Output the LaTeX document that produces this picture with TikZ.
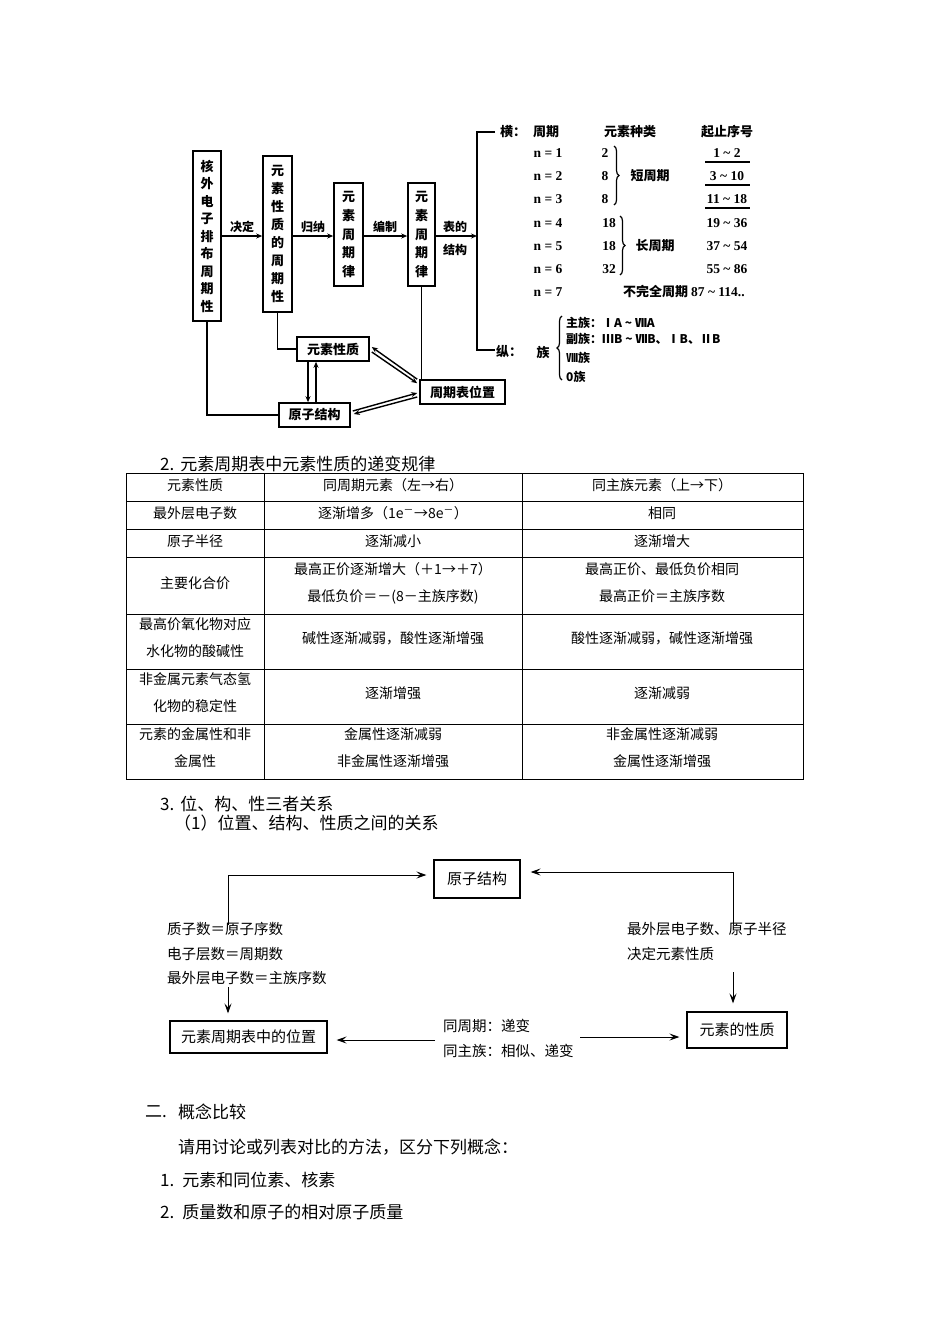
\documentclass[tikz,border=0pt]{standalone}
\usepackage{fontspec}
\setmainfont{Liberation Serif}
\newfontfamily\cjk{Noto Sans CJK SC}
\usetikzlibrary{arrows.meta,calc,decorations.pathreplacing}
\begin{document}
\begin{tikzpicture}[x=1pt,y=-1pt,
  tl/.style={line width=1.6pt},
  tarr/.style={line width=1.4pt, -{Stealth[length=6pt,width=5pt]}},
  vbox/.style={draw, line width=1.6pt, inner sep=0pt, align=center},
  hbox/.style={draw, line width=1.6pt, inner sep=0pt, minimum height=24pt, font=\cjk\bfseries\fontsize{13}{13}\selectfont},
  lbl/.style={font=\cjk\bfseries\fontsize{12}{23}\selectfont, inner sep=0pt, align=center},
  sr/.style={font=\bfseries\fontsize{13.5}{13.5}\selectfont, inner sep=0pt},
  ck/.style={font=\cjk\bfseries\fontsize{13}{13}\selectfont, inner sep=0pt},
  brc/.style={line width=1.2pt, decorate, decoration={brace, amplitude=5pt}},
  tbl/.style={line width=0.8pt},
  tt/.style={font=\cjk\fontsize{14}{27}\selectfont, inner sep=0pt, align=center},
  body/.style={font=\cjk\fontsize{17}{17}\selectfont, inner sep=0pt, anchor=west},
  bbox/.style={draw, line width=1.2pt, inner sep=0pt, font=\cjk\fontsize{15}{15}\selectfont},
  btxt/.style={font=\cjk\fontsize{14.5}{14.5}\selectfont, inner sep=0pt, anchor=west},
  barr/.style={line width=0.9pt, -{Stealth[length=10pt,width=7pt,inset=4pt]}}
]
\fill[white] (0,0) rectangle (950,1344);
\useasboundingbox (0,0) rectangle (950,1344);

% ---------- top diagram ----------
\node[vbox, minimum width=28pt, minimum height=170pt, font=\cjk\bfseries\fontsize{13}{17.5}\selectfont] (b1) at (207,236) {核\\外\\电\\子\\排\\布\\周\\期\\性};
\node[vbox, minimum width=29pt, minimum height=156pt, font=\cjk\bfseries\fontsize{13}{18}\selectfont] (b2) at (277.5,234) {元\\素\\性\\质\\的\\周\\期\\性};
\node[vbox, minimum width=29pt, minimum height=103pt, font=\cjk\bfseries\fontsize{13}{18.7}\selectfont] (b3) at (348.5,234.5) {元\\素\\周\\期\\律};
\node[vbox, minimum width=27pt, minimum height=103pt, font=\cjk\bfseries\fontsize{13}{18.7}\selectfont] (b4) at (421.5,234.5) {元\\素\\周\\期\\律};

\node[lbl] (l1) at (242,227) {决定};
\node[lbl] (l2) at (313,227) {归纳};
\node[lbl] (l3) at (385,227) {编制};
\node[lbl] (l4) at (455,238) {表的\\结构};

\coordinate (brT) at (477,132);
\coordinate (brB) at (477,350);
\coordinate (brT2) at (495,132);
\coordinate (brB2) at (495,350);
\draw[tl] (brT2) -- (brT) -- (brB) -- (brB2);

\draw[tarr] (b1.east) -- (b1.east -| b2.west);
\draw[tarr] (b1.east -| b2.east) -- (b1.east -| b3.west);
\draw[tarr] (b1.east -| b3.east) -- (b1.east -| b4.west);
\draw[tarr] (b1.east -| b4.east) -- (b1.east -| brT);

\node[hbox, minimum width=72pt] (ysxz) at (333,349) {元素性质};
\node[hbox, minimum width=71pt] (yzjg) at (314.5,415) {原子结构};
\node[hbox, minimum width=85pt] (zqb) at (462.5,392) {周期表位置};

\draw[tl] (b2.south) |- (ysxz.west);
\draw[tl] (b1.south) |- (yzjg.west);
\draw[tl] (b4.south) -- (b4.south |- zqb.north);

\draw[tarr] ($(ysxz.south)+(-25,0)$) -- ($(yzjg.north)+(-6.5,0)$);
\draw[tarr] ($(yzjg.north)+(1.5,0)$) -- ($(ysxz.south)+(-17,0)$);
\draw[tarr] ($(zqb.north west)+(-2,0)$) -- ($(ysxz.east)+(2,-2)$);
\draw[tarr] ($(ysxz.east)+(2,3)$) -- ($(zqb.north west)+(-2,4)$);
\draw[tarr] ($(yzjg.east)+(2,-4)$) -- ($(zqb.west)+(-2,1)$);
\draw[tarr] ($(zqb.west)+(-2,5)$) -- ($(yzjg.east)+(3,-1)$);

% right part
\node[ck] (heng) at (513,132) {横：};
\node[ck] (hzq) at (546,132) {周期};
\node[ck] (hzl) at (630,132) {元素种类};
\node[ck] (hxh) at (727,132) {起止序号};
\foreach \i/\y in {1/153,2/176,3/199,4/223,5/246,6/269,7/292}
  \node[sr] (n\i) at (548,\y) {n = \i};
\foreach \i/\y/\v in {1/153/2,2/176/8,3/199/8}
  \node[sr] (k\i) at (605,\y) {\v};
\foreach \i/\y/\v in {4/223/18,5/246/18,6/269/32}
  \node[sr] (k\i) at (609,\y) {\v};
\draw[brc] (614,146) -- (614,205);
\node[ck] (dzq) at (650,176) {短周期};
\draw[brc] (620,216) -- (620,275);
\node[ck] (czq) at (655,246) {长周期};
\foreach \i/\y/\v in {1/153/{1 \textasciitilde\ 2},2/176/{3 \textasciitilde\ 10},3/199/{11 \textasciitilde\ 18},4/223/{19 \textasciitilde\ 36},5/246/{37 \textasciitilde\ 54},6/269/{55 \textasciitilde\ 86}}
  \node[sr] (g\i) at (727,\y) {\v};
\draw[line width=1.2pt] (705,162) -- (750,162);
\draw[line width=1.2pt] (705,185) -- (750,185);
\draw[line width=1.8pt] (705,208) -- (750,208);
\node[ck, anchor=west] (bwq) at (623,292) {不完全周期 {\rmfamily\fontsize{13.5}{13.5}\selectfont 87 \textasciitilde\ 114..}};

\node[ck] (zong) at (509,352) {纵：};
\node[ck] (zu) at (543,352) {族};
\draw[brc] (562,380) -- (562,316);
\node[ck, anchor=west, font=\cjk\bfseries\fontsize{12}{12}\selectfont] (zz1) at (566,323) {主族：ⅠA \textasciitilde\ ⅦA};
\node[ck, anchor=west, font=\cjk\bfseries\fontsize{12}{12}\selectfont] (zz2) at (566,339) {副族：ⅢB \textasciitilde\ ⅦB、ⅠB、ⅡB};
\node[ck, anchor=west, font=\cjk\bfseries\fontsize{12}{12}\selectfont] (zz3) at (566,358) {Ⅷ族};
\node[ck, anchor=west, font=\cjk\bfseries\fontsize{12}{12}\selectfont] (zz4) at (566,377) {0族};

% ---------- table ----------
\node[body] (t2) at (160,464) {2.\hspace{6pt}元素周期表中元素性质的递变规律};
\draw[tbl] (126,473) rectangle (803,779);
\foreach \y in {501,529,557,614,669,724} \draw[tbl] (126,\y) -- (803,\y);
\draw[tbl] (264,473) -- (264,779);
\draw[tbl] (522,473) -- (522,779);

\node[tt] (a0) at (195,485) {元素性质};
\node[tt] (b0) at (393,485) {同周期元素（左→右）};
\node[tt] (c0) at (662,485) {同主族元素（上→下）};
\node[tt] (a1) at (195,513) {最外层电子数};
\node[tt] (b1t) at (393,513) {逐渐增多（1e\textsuperscript{－}→8e\textsuperscript{－}）};
\node[tt] (c1) at (662,513) {相同};
\node[tt] (a2) at (195,541) {原子半径};
\node[tt] (b2t) at (393,541) {逐渐减小};
\node[tt] (c2) at (662,541) {逐渐增大};
\node[tt] (a3) at (195,583) {主要化合价};
\node[tt] (b3t) at (393,583) {最高正价逐渐增大（＋1→＋7）\\最低负价＝－(8－主族序数)};
\node[tt] (c3) at (662,583) {最高正价、最低负价相同\\最高正价＝主族序数};
\node[tt] (a4) at (195,638) {最高价氧化物对应\\水化物的酸碱性};
\node[tt] (b4t) at (393,638) {碱性逐渐减弱，酸性逐渐增强};
\node[tt] (c4) at (662,638) {酸性逐渐减弱，碱性逐渐增强};
\node[tt] (a5) at (195,693) {非金属元素气态氢\\化物的稳定性};
\node[tt] (b5t) at (393,693) {逐渐增强};
\node[tt] (c5) at (662,693) {逐渐减弱};
\node[tt] (a6) at (195,748) {元素的金属性和非\\金属性};
\node[tt] (b6t) at (393,748) {金属性逐渐减弱\\非金属性逐渐增强};
\node[tt] (c6) at (662,748) {非金属性逐渐减弱\\金属性逐渐增强};

% ---------- section 3 ----------
\node[body] (s3) at (160,804) {3.\hspace{6pt}位、构、性三者关系};
\node[body] (s31) at (174,823) {（1）位置、结构、性质之间的关系};

\node[bbox, minimum width=86pt, minimum height=38pt] (pa) at (477,879) {原子结构};
\node[bbox, minimum width=157pt, minimum height=32pt] (pb) at (248.5,1037) {元素周期表中的位置};
\node[bbox, minimum width=100pt, minimum height=36pt] (pc) at (737,1030) {元素的性质};

\coordinate (L1) at (228,925);
\coordinate (R1) at (733,925);
\coordinate (L2) at (228,987);
\coordinate (R2) at (733,972);
\coordinate (M1) at (435,1040);
\coordinate (M2) at (580,1037);
\draw[barr] (L1) |- ($(pa.west)+(-7,-4)$);
\draw[barr] (R1) |- ($(pa.east)+(10,-7)$);
\draw[barr] (L2) -- ($(pb.north -| L2)+(0,-7)$);
\draw[barr] (R2) -- ($(pc.north -| R2)+(0,-8)$);
\draw[barr] (M1) -- ($(pb.east)+(9,3)$);
\draw[barr] (M2) -- ($(pc.west)+(-7,7)$);

\node[btxt] (q1) at (167,929) {质子数＝原子序数};
\node[btxt] (q2) at (167,954) {电子层数＝周期数};
\node[btxt] (q3) at (167,978) {最外层电子数＝主族序数};
\node[btxt] (q4) at (627,929) {最外层电子数、原子半径};
\node[btxt] (q5) at (627,954) {决定元素性质};
\node[btxt] (q6) at (443,1026) {同周期：递变};
\node[btxt] (q7) at (443,1051) {同主族：相似、递变};

% ---------- section 二 ----------
\node[body] (e0) at (145,1112) {二.};
\node[body] (e1) at (178,1112) {概念比较};
\node[body] (e2) at (178,1147) {请用讨论或列表对比的方法，区分下列概念：};
\node[body] (e3) at (160,1180) {1.\hspace{8pt}元素和同位素、核素};
\node[body] (e4) at (160,1212) {2.\hspace{8pt}质量数和原子的相对原子质量};
\end{tikzpicture}
\end{document}
